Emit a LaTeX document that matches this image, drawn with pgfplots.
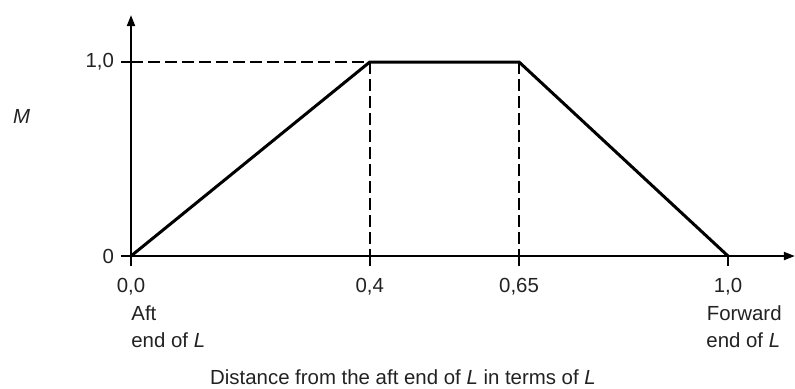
\documentclass[border=0pt]{standalone}
\usepackage{fontspec}
\setmainfont{Liberation Sans}
\usepackage{pgfplots}
\pgfplotsset{compat=1.18}
\usetikzlibrary{arrows.meta}
\definecolor{cText}{HTML}{222222}

\begin{document}
\begin{tikzpicture}[font=\fontsize{10.2}{12}\selectfont]
\useasboundingbox (-65.5pt,-66pt) rectangle (332pt,128pt);
\begin{axis}[anchor=origin,at={(0pt,0pt)},
  x=298.5pt,y=97pt,
  xmin=0,xmax=1.112,ymin=0,ymax=1.242,
  axis lines=left,
  axis line style={line width=1pt,-{Triangle[length=5.5pt,width=4pt]}},
  tick align=outside,major tick length=5pt,
  tick style={line width=1pt,black},
  xtick={0,0.4,0.65,1},xticklabels={{0,0},{0,4},{0,65},{1,0}},
  ytick={0,1},yticklabels={{0},{1,0}},
  xticklabel style={anchor=base,yshift=-13pt,text=cText},
  yticklabel style={text=cText},
  clip=false]
% trapezoid
\addplot[black,line width=1.5pt] coordinates {(0,0)(0.4,1)(0.65,1)(1,0)};
% helper dashed lines
\addplot[black,line width=0.7pt,dash pattern=on 6pt off 2.5pt] coordinates {(0,1)(0.4,1)};
\addplot[black,line width=0.7pt,dash pattern=on 6pt off 2.5pt] coordinates {(0.4,1)(0.4,0)};
\addplot[black,line width=0.7pt,dash pattern=on 6pt off 2.5pt] coordinates {(0.65,1)(0.65,0)};
% labels
\node[anchor=base,text=cText] at (axis cs:-0.1834,0.6856) {\textit{M}};
\node[anchor=base west,inner sep=0pt,text=cText] at (axis cs:0,-0.3299) {Aft};
\node[anchor=base west,inner sep=0pt,text=cText] at (axis cs:0,-0.4691) {end of \textit{L}};
\node[anchor=base east,inner sep=0pt,text=cText] at (axis cs:1.0905,-0.3299) {Forward};
\node[anchor=base east,inner sep=0pt,text=cText] at (axis cs:1.0880,-0.4691) {end of \textit{L}};
\node[anchor=base,inner sep=0pt,text=cText] at (axis cs:0.4556,-0.660) {Distance from the aft end of \textit{L} in terms of \textit{L}};
\end{axis}
\end{tikzpicture}
\end{document}
